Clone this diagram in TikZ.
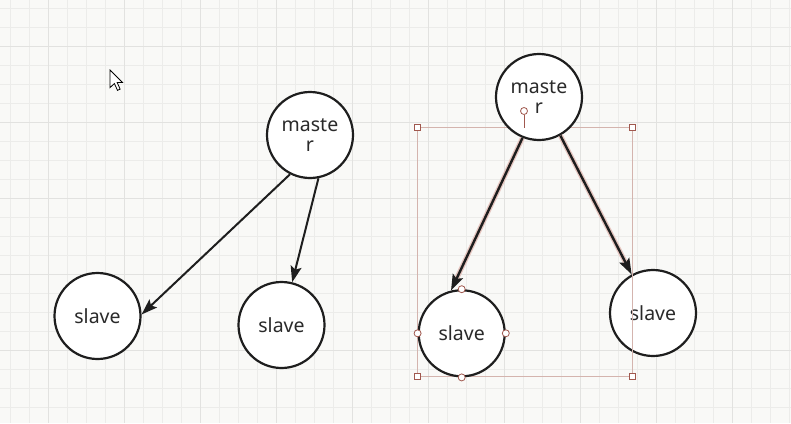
\documentclass[tikz,border=0pt]{standalone}
\usepackage{fontspec}
\setmainfont{Noto Sans}
\usetikzlibrary{arrows.meta}
\definecolor{bgc}{HTML}{F9F9F7}
\definecolor{gridminor}{HTML}{ECECEA}
\definecolor{gridmajor}{HTML}{E2E2E0}
\definecolor{ink}{HTML}{1E1E1E}
\definecolor{txt}{HTML}{2A2A2A}
\definecolor{sel}{HTML}{A0584E}
\definecolor{selline}{HTML}{D4B4AE}
\definecolor{halo}{HTML}{E6C6C0}
\begin{document}
\begin{tikzpicture}[x=1pt,y=-1pt,
  nd/.style={circle, draw=ink, line width=2.2pt, fill=white, minimum size=86pt, inner sep=0pt,
    font=\fontsize{19.5}{20}\selectfont, text=txt, align=center},
  link/.style={draw=ink, line width=2pt, -{Stealth[length=16pt,width=11pt,inset=3pt]}},
  sellink/.style={link, line width=2.4pt, preaction={draw=halo, line width=5pt, -, shorten >=10pt}},
  hsq/.style={rectangle, draw=sel, fill=white, line width=0.8pt, minimum size=6pt, inner sep=0pt},
  hci/.style={circle, draw=sel, fill=white, line width=0.8pt, minimum size=7pt, inner sep=0pt},
  selbox/.style={draw=selline, line width=0.9pt},
  cursor/.style={fill=white, draw=black, line width=0.8pt, line join=miter}]
% background and grid
\fill[bgc] (0,0) rectangle (791,423);
\useasboundingbox (0,0) rectangle (791,423);
\foreach \x in {10,29,...,791} \draw[gridminor, line width=0.8pt] (\x,0) -- (\x,423);
\foreach \y in {8,27,...,423} \draw[gridminor, line width=0.8pt] (0,\y) -- (791,\y);
\foreach \x in {48,124,...,791} \draw[gridmajor, line width=0.9pt] (\x,0) -- (\x,423);
\foreach \y in {46,122,...,423} \draw[gridmajor, line width=0.9pt] (0,\y) -- (791,\y);
% cursor
\draw[cursor, shift={(110,70)}, scale=1.1] (0,0) -- (0,16) -- (4,12.3) -- (6.8,18.5) -- (9.2,17.4) -- (6.5,11.3) -- (11.3,11.3) -- cycle;
% left graph
\node[nd] (m1) at (310,135) {maste\\r};
\node[nd] (s1) at (97.5,316) {slave};
\node[nd] (s2) at (281.5,325) {slave};
\draw[link] (m1.-117) -- (s1.2);
\draw[link] (m1.-79) -- (s2.76);
% right graph
\node[nd] (s4) at (653,313) {slave};
\coordinate (bTL) at (417.5,127.5);
\coordinate (bTR) at (632,127.5);
\coordinate (bBL) at (417.5,376.5);
\coordinate (bBR) at (632,376.5);
\draw[selbox] (bTL) rectangle (bBR);
\node[nd] (m2) at (539,97) {maste\\r};
\node[nd] (s3) at (461.7,333.3) {slave};
\draw[sellink] (m2.-112) -- (s3.104);
\draw[sellink] (m2.-61) -- (s4.119);
% selection handles
\node[hci] (rot) at (524,111) {};
\coordinate (rotfoot) at (524,127.5);
\draw[draw=sel, line width=0.9pt] (rot) -- (rotfoot);
\node[hsq] (h1) at (bTL) {};
\node[hsq] (h2) at (bTR) {};
\node[hsq] (h3) at (bBL) {};
\node[hsq] (h4) at (bBR) {};
\node[hci] (c1) at (s3.north) {};
\node[hci] (c2) at (s3.south) {};
\node[hci] (c3) at (s3.west) {};
\node[hci] (c4) at (s3.east) {};
\end{tikzpicture}
\end{document}
